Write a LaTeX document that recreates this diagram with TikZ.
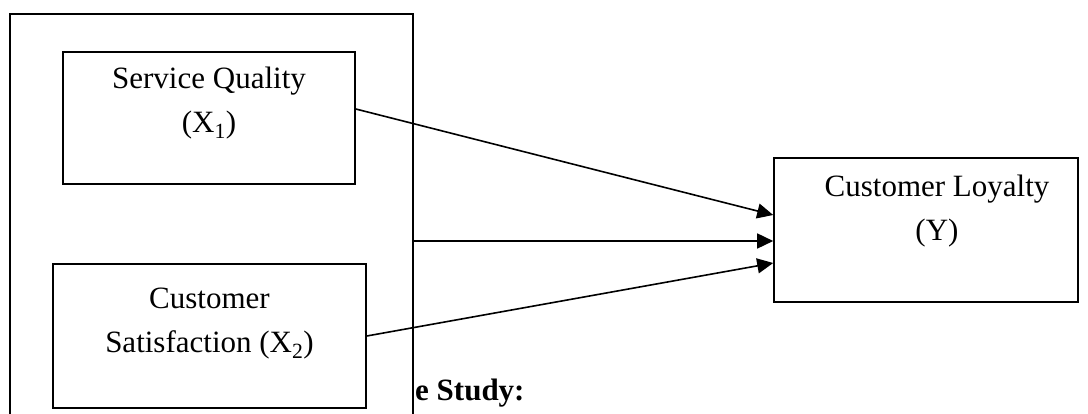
\documentclass[tikz,border=0pt]{standalone}
\usepackage{fontspec}
\setmainfont{Liberation Serif}
\usetikzlibrary{arrows.meta,calc}
\begin{document}
\begin{tikzpicture}[x=1pt,y=-1pt,
  frame/.style={draw,line width=1.6pt,fill=white,rectangle,inner sep=0pt},
  lbl/.style={font=\fontsize{31}{44}\selectfont,align=center,inner sep=0pt},
  link/.style={line width=1.6pt,-{Triangle[length=16pt,width=15pt]}}]
\useasboundingbox (0,0) rectangle (1088,414);
\begin{scope}
\clip (0,0) rectangle (1088,414);
\node[frame,minimum width=403pt,minimum height=420pt] (outer) at (211.5,224) {};
\end{scope}
\node[font=\fontsize{31}{36}\selectfont\bfseries,anchor=west,inner sep=0pt] (head) at (415,393) {e Study:};
\node[frame,minimum width=292pt,minimum height=132pt] (sq) at (209,118) {};
\node[lbl] (sqt) at ($(sq)+(0,-15)$) {Service Quality\\(X\textsubscript{1})};
\node[frame,minimum width=313pt,minimum height=144pt] (cs) at (209.5,336) {};
\node[lbl] (cst) at ($(cs)+(0,-12)$) {Customer\\Satisfaction (X\textsubscript{2})};
\node[frame,minimum width=304pt,minimum height=144pt] (cl) at (926,230) {};
\node[lbl] (clt) at ($(cl)+(11,-19)$) {Customer Loyalty\\(Y)};
\draw[link] ($(sq.east)+(0,-9)$) -- ($(cl.west)+(0,-15)$);
\draw[link] ($(outer.east|-cl.west)+(0,11)$) -- ($(cl.west)+(0,11)$);
\draw[link] (cs.east) -- ($(cl.west)+(0,33)$);
\end{tikzpicture}
\end{document}
